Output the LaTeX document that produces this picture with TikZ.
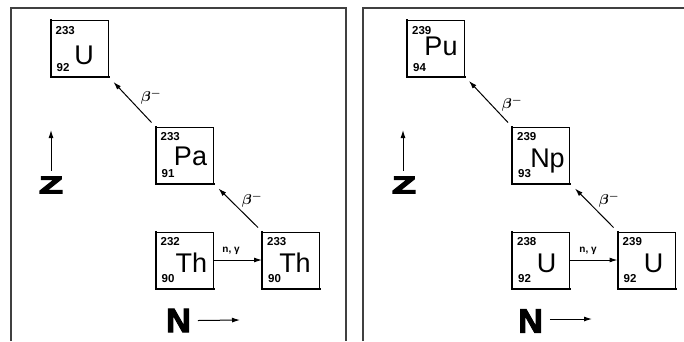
\documentclass[tikz,border=0pt]{standalone}
\usepackage{fontspec}
\setmainfont{Liberation Sans}
\newfontfamily\heavyfont[FakeBold=3]{Liberation Sans Bold}
\newfontfamily\heavierfont[FakeBold=5]{Liberation Sans Bold}
\usetikzlibrary{arrows.meta}
\newcommand\nucleusbox[8]{% name, cx, cy, mass, Z, symbol, dx, dy
  \node[nucbox] (#1) at (#2,#3) {};
  \draw[line width=2pt, line cap=rect] (#1.north west) -- (#1.south west) -- (#1.south east);
  \node[nucnum, anchor=base west] (#1-A) at ([shift={(5,14)}]#1.north west) {#4};
  \node[nucnum, anchor=base west] (#1-Z) at ([shift={(6,-6)}]#1.south west) {#5};
  \node[nucsym] (#1-s) at ([shift={(#7,#8)}]#1.center) {#6};
}
\begin{document}
\begin{tikzpicture}[x=1pt,y=-1pt,
  nucbox/.style={draw, line width=1pt, minimum width=57pt, minimum height=56pt, inner sep=0pt},
  nucnum/.style={font=\bfseries\fontsize{11.5}{11.5}\selectfont, inner sep=0pt},
  nucsym/.style={font=\fontsize{27}{27}\selectfont, inner sep=0pt, anchor=base},
  flow/.style={-{Latex[length=8pt,width=5pt]}, line width=1pt},
  blabel/.style={font=\fontsize{15}{15}\selectfont\boldmath, inner sep=0pt},
  nglabel/.style={font=\bfseries\fontsize{10}{10}\selectfont, inner sep=0pt},
  axisletter/.style={font=\heavyfont\fontsize{34}{34}\selectfont, inner sep=0pt},
  zletter/.style={font=\heavierfont\fontsize{24}{24}\selectfont, inner sep=0pt, xscale=1.6},
  frame/.style={line width=2pt, black!75}
]
\useasboundingbox (0,0) rectangle (684,341);
% panel frames
\draw[frame] (11,341) -- (11,8) -- (346,8) -- (346,341);
\draw[frame] (363,341) -- (363,8) -- (684,8);

% ---------- left panel ----------
\nucleusbox{U233}{79.5}{48.5}{233}{92}{U}{4.5}{16}
\nucleusbox{Pa233}{184.5}{155}{233}{91}{Pa}{6}{10}
\nucleusbox{Th232}{184.5}{260}{232}{90}{Th}{7}{12}
\nucleusbox{Th233}{291}{260}{233}{90}{Th}{4}{12}

\draw[flow] (Th232) -- (Th233);
\node[nglabel] (ng1) at (231,251) {n, γ};
\draw[flow] ([shift={(-4,-4)}]Th233.north west) -- ([shift={(5,5)}]Pa233.south east);
\node[blabel] (b1) at (252,200) {$\beta^{-}$};
\draw[flow] ([shift={(-4,-4)}]Pa233.north west) -- ([shift={(5,5)}]U233.south east);
\node[blabel] (b2) at (151,97) {$\beta^{-}$};

\node[zletter] (Zl) at (51,185) {Z};
\coordinate (Zltip) at (51,130);
\draw[flow] ([shift={(0,-6)}]Zl.north) -- (Zltip);
\node[axisletter] (Nl) at (178.5,320.5) {N};
\coordinate (Nltip) at (240,320);
\draw[flow] ([shift={(7,0)}]Nl.east) -- (Nltip);

% ---------- right panel ----------
\nucleusbox{Pu239}{436}{48.5}{239}{94}{Pu}{5}{7}
\nucleusbox{Np239}{541}{155}{239}{93}{Np}{6.5}{12}
\nucleusbox{U238}{541}{260}{238}{92}{U}{5.5}{12}
\nucleusbox{U239}{646.5}{260}{239}{92}{U}{7}{12}

\draw[flow] (U238) -- (U239);
\node[nglabel] (ng2) at (588,251) {n, γ};
\draw[flow] ([shift={(-4,-4)}]U239.north west) -- ([shift={(5,5)}]Np239.south east);
\node[blabel] (b3) at (609,200) {$\beta^{-}$};
\draw[flow] ([shift={(-4,-4)}]Np239.north west) -- ([shift={(4,4)}]Pu239.south east);
\node[blabel] (b4) at (512,104) {$\beta^{-}$};

\node[zletter] (Zr) at (404,185) {Z};
\coordinate (Zrtip) at (403,130);
\draw[flow] ([shift={(-1,-6)}]Zr.north) -- (Zrtip);
\node[axisletter] (Nr) at (530.5,321) {N};
\coordinate (Nrtip) at (592,319);
\draw[flow] ([shift={(7,-2)}]Nr.east) -- (Nrtip);
\end{tikzpicture}
\end{document}
